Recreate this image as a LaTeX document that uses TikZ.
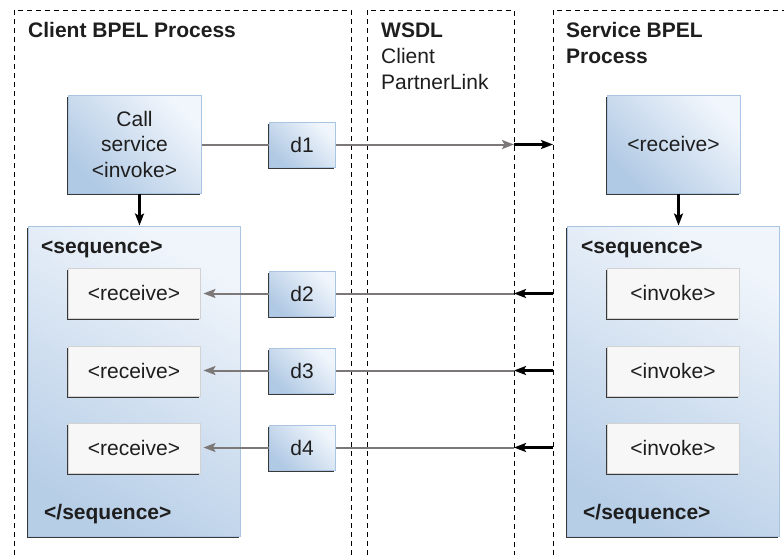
\documentclass[tikz,border=0pt]{standalone}
\usepackage{fontspec}
\setmainfont{Liberation Sans}
\usetikzlibrary{arrows.meta,shadows}
\definecolor{bluedark}{HTML}{B0C9E4}
\definecolor{bluelight}{HTML}{F1F6FC}
\definecolor{blueborder}{HTML}{A9C5E2}
\definecolor{seqdark}{HTML}{B7CEE7}
\definecolor{seqlight}{HTML}{F0F5FB}
\definecolor{conn}{HTML}{7D7878}
\definecolor{whitebox}{HTML}{F7F7F7}
\definecolor{whiteborder}{HTML}{D2D2D2}
\definecolor{txt}{HTML}{1E1E1E}
\begin{document}
\begin{tikzpicture}[x=1pt,y=-1pt,
  font=\fontsize{21}{25.5}\selectfont, text=txt,
  lane/.style={line width=1pt, dash pattern=on 5pt off 4pt, black},
  shade/.style={drop shadow={shadow xshift=-1.2pt,shadow yshift=-2pt,fill=black!78,opacity=1}},
  bluebox/.style={shade, draw=blueborder, line width=1pt, top color=bluelight, bottom color=bluedark, shading angle=-45, inner sep=0pt, align=center},
  seqbox/.style={shade, draw=blueborder, line width=1pt, top color=seqlight, bottom color=seqdark, shading angle=-30, inner sep=0pt},
  actbox/.style={shade, draw=whiteborder, line width=1pt, fill=whitebox, inner sep=0pt, minimum width=132pt, minimum height=50pt},
  dbox/.style={bluebox, minimum width=66pt, minimum height=45pt},
  title/.style={anchor=base west, font=\fontsize{21}{25.5}\selectfont\bfseries, inner sep=0pt},
  sub/.style={anchor=base west, inner sep=0pt},
  gline/.style={conn, line width=2pt},
  garrow/.style={gline, -{Stealth[length=12pt,width=9pt,inset=2.5pt]}},
  barrow/.style={black, line width=2.2pt, -{Stealth[length=12pt,width=9pt,inset=2.5pt]}}
]
\useasboundingbox (0,0) rectangle (784,555);
\fill[white] (0,0) rectangle (784,555);

% swimlanes
\draw[lane] (14,555) -- (14,10) -- (351,10) -- (351,555);
\draw[lane] (367,555) -- (367,10) -- (514,10) -- (514,555);
\draw[lane] (553,555) -- (553,10) -- (784,10);

% titles
\node[title] (tclient) at (28,37) {Client BPEL Process};
\node[title] (twsdl) at (381,37) {WSDL};
\node[sub] (twsdl2) at (381,63) {Client};
\node[sub] (twsdl3) at (381,89) {PartnerLink};
\node[title] (tservice) at (566,37) {Service BPEL};
\node[title] (tservice2) at (566,63) {Process};

% client side
\node[bluebox, minimum width=133pt, minimum height=98pt] (call) at (134.5,144) {Call\\service\\<invoke>};
\node[seqbox, minimum width=212pt, minimum height=310pt] (seqL) at (134,381) {};
\node[title] (seqLa) at (41,253) {<sequence>};
\node[title] (seqLb) at (44,519) {</sequence>};
\node[actbox] (r1) at (134,293) {<receive>};
\node[actbox] (r2) at (134,371) {<receive>};
\node[actbox] (r3) at (134,448) {<receive>};

% data
\node[dbox] (d1) at (302,144.5) {d1};
\node[dbox] (d2) at (302,293.5) {d2};
\node[dbox] (d3) at (302,370.5) {d3};
\node[dbox] (d4) at (302,447.5) {d4};

% service side
\node[bluebox, minimum width=133pt, minimum height=98pt] (srec) at (673.5,144) {<receive>};
\node[seqbox, minimum width=212pt, minimum height=310pt] (seqR) at (673,381) {};
\node[title] (seqRa) at (581,253) {<sequence>};
\node[title] (seqRb) at (583,519) {</sequence>};
\node[actbox] (i1) at (673,293) {<invoke>};
\node[actbox] (i2) at (673,371) {<invoke>};
\node[actbox] (i3) at (673,448) {<invoke>};

% lane crossing points
\coordinate (w1) at (514,144.5);
\coordinate (s1) at (553,144.5);
\coordinate (w2) at (514,293.5);
\coordinate (s2) at (553,293.5);
\coordinate (w3) at (514,370.5);
\coordinate (s3) at (553,370.5);
\coordinate (w4) at (514,447.5);
\coordinate (s4) at (553,447.5);

% connectors
\draw[barrow] ([xshift=5pt]call.south) -- ([xshift=5pt]call.south |- seqL.north);
\draw[barrow] ([xshift=5pt]srec.south) -- ([xshift=5pt]srec.south |- seqR.north);

\draw[gline] (call.east |- d1.west) -- (d1.west);
\draw[garrow] (d1.east) -- (w1);
\draw[barrow] (w1) -- (s1);

\draw[barrow] (s2) -- (w2);
\draw[gline] (w2) -- (d2.east);
\draw[garrow, shorten >=3pt] (d2.west) -- (r1.east |- d2.west);

\draw[barrow] (s3) -- (w3);
\draw[gline] (w3) -- (d3.east);
\draw[garrow, shorten >=3pt] (d3.west) -- (r2.east |- d3.west);

\draw[barrow] (s4) -- (w4);
\draw[gline] (w4) -- (d4.east);
\draw[garrow, shorten >=3pt] (d4.west) -- (r3.east |- d4.west);
\end{tikzpicture}
\end{document}
